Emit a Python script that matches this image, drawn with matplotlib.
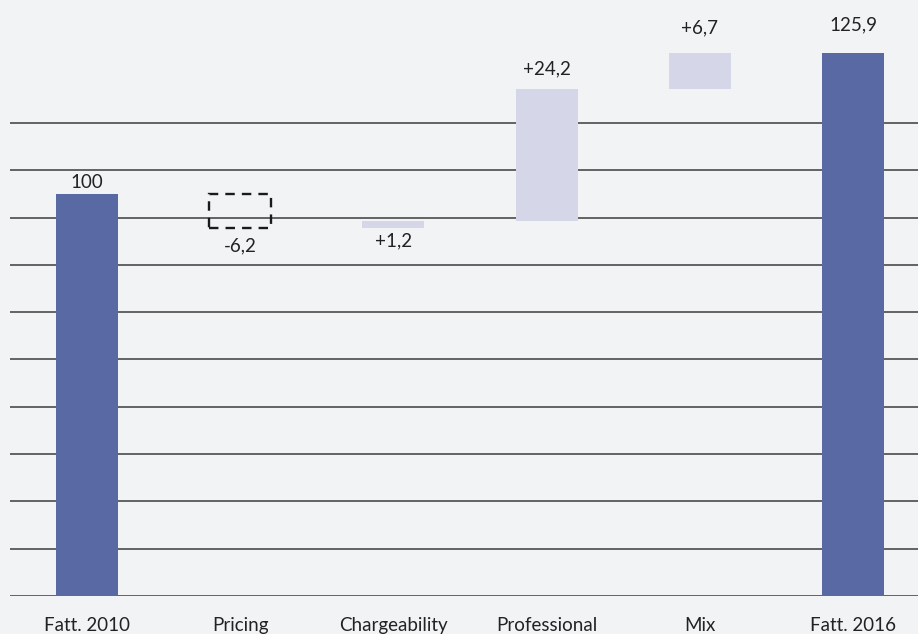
import matplotlib
matplotlib.use("Agg")
import matplotlib.pyplot as plt
import numpy as np

# Revenue bridge 2010 -> 2016 (index, 2010 = 100)
categories = ["Fatt. 2010", "Pricing", "Chargeability", "Professional", "Mix", "Fatt. 2016"]
start_value = 100.0
deltas = [-6.2, 1.2, 24.2, 6.7]
end_value = 125.9
value_labels = ["100", "-6,2", "+1,2", "+24,2", "+6,7", "125,9"]

BG = "#f2f3f5"
DARK = "#5869a3"
LIGHT = "#d5d6e8"
TXT = "#222222"
GRID = "#3c3c3c"

plt.rcParams["font.family"] = ["Lato", "DejaVu Sans"]

fig = plt.figure(figsize=(9.18, 6.34), dpi=100, facecolor=BG)
ax = fig.add_axes([10 / 918, 38 / 634, 908 / 918, 596 / 634])
ax.set_facecolor(BG)

y_low, y_high = 26.16, 135.64
ax.set_ylim(y_low, y_high)
ax.set_xlim(-0.503, 5.424)

# horizontal rules
grid_levels = np.linspace(y_low, y_low + 10 * 8.689, 11)
for g in grid_levels:
    ax.axhline(g, color=GRID, lw=1.1, zorder=1)

width = 0.405
x = np.arange(len(categories))

# totals
ax.bar(x[0], start_value - y_low, bottom=y_low, width=width, color=DARK, zorder=3)
ax.bar(x[-1], end_value - y_low, bottom=y_low, width=width, color=DARK, zorder=3)

# steps
running = start_value
tops = [start_value]
bottoms = [start_value]
for i, d in enumerate(deltas, start=1):
    lo = min(running, running + d)
    hi = max(running, running + d)
    if d < 0:
        ax.bar(x[i], hi - lo, bottom=lo, width=width, facecolor="none",
               edgecolor="#1a1a1a", linestyle=(0, (4, 3)), linewidth=1.7, zorder=4)
    else:
        ax.bar(x[i], hi - lo, bottom=lo, width=width, color=LIGHT, zorder=3)
    tops.append(hi)
    bottoms.append(lo)
    running += d
tops.append(end_value)
bottoms.append(end_value)

# value labels: above the bar, or below for the first two steps
offsets = [(tops[0], 6, "baseline"),
           (bottoms[1], -10, "top"),
           (bottoms[2], -5, "top"),
           (tops[3], 15, "baseline"),
           (tops[4], 20, "baseline"),
           (tops[5], 23, "baseline")]
for i, (lbl, (yv, dy, va)) in enumerate(zip(value_labels, offsets)):
    ax.annotate(lbl, (x[i], yv), xytext=(0, dy), textcoords="offset pixels",
                ha="center", va=va, fontsize=13.5, color=TXT, zorder=5)

ax.set_xticks(x)
ax.set_xticklabels(categories, fontsize=13.5, color=TXT)
ax.tick_params(axis="x", length=0, pad=15)
ax.set_yticks([])
for s in ax.spines.values():
    s.set_visible(False)

fig.savefig("out.png", dpi=100, facecolor=BG)
